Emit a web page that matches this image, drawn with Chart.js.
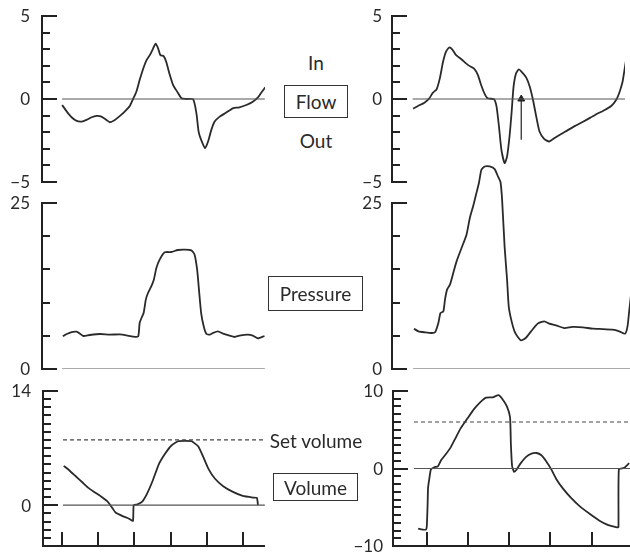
<!DOCTYPE html>
<html>
<head>
<meta charset="utf-8">
<script src="https://cdn.jsdelivr.net/npm/chart.js@4/dist/chart.umd.min.js"></script>
<style>
  html, body { margin: 0; padding: 0; background: #fff; }
  #wrap { position: relative; width: 630px; height: 555px; overflow: hidden; }
  canvas { position: absolute; }
  .lbl { position: absolute; font-family: Lato, "Open Sans", sans-serif; font-size: 19px; color: #2a2a2a;
         display: flex; align-items: center; justify-content: center; white-space: nowrap; }
  .box { border: 1.6px solid #333; box-sizing: border-box; }
</style>
</head>
<body>
<div id="wrap">
  <canvas id="flowL" width="270" height="192" style="left:0;top:0"></canvas>
  <canvas id="presL" width="270" height="190" style="left:0;top:190px"></canvas>
  <canvas id="volL" width="270" height="175" style="left:0;top:380px"></canvas>
  <canvas id="flowR" width="280" height="192" style="left:350px;top:0"></canvas>
  <canvas id="presR" width="280" height="230" style="left:350px;top:150px"></canvas>
  <canvas id="volR" width="280" height="175" style="left:350px;top:380px"></canvas>

  <div class="lbl" style="left:286px;top:50px;width:60px;height:24px">In</div>
  <div class="lbl box" style="left:284px;top:85px;width:64px;height:33px">Flow</div>
  <div class="lbl" style="left:286px;top:128px;width:60px;height:24px">Out</div>
  <div class="lbl box" style="left:268px;top:276px;width:95px;height:35px">Pressure</div>
  <div class="lbl" style="left:255px;top:428px;width:122px;height:24px">Set volume</div>
  <div class="lbl box" style="left:273px;top:473px;width:85px;height:28px">Volume</div>
</div>
<script>
// ---- time axis (units of one time-tick interval) ----
const timeTicksLeft = [0, 1, 2, 3, 4, 5];
const timeTicksRight = [0, 1, 2, 3, 4, 5];
const traceSpanLeft = [0.03, 5.6];
const traceSpanRight = [-0.31, 4.95];

// ---- left: normal breath ----
const flowLeftT = [0.03,0.16,0.29,0.43,0.57,0.70,0.84,0.98,1.11,1.25,1.34,1.48,1.62,1.75,1.89,1.98,2.07,2.16,2.26,2.35,2.44,2.53,2.60,2.67,2.73,2.82,2.89,2.99,3.08,3.21,3.31,3.44,3.63,3.72,3.78,3.85,3.96,4.04,4.13,4.22,4.36,4.54,4.72,4.90,5.09,5.27,5.41,5.50,5.61];
const flowLeftV = [-0.36,-0.76,-1.1,-1.32,-1.36,-1.26,-1.1,-1.02,-1.06,-1.26,-1.4,-1.26,-1.02,-0.76,-0.42,0,0.44,1.14,1.84,2.34,2.64,3.04,3.34,3.04,2.64,2.58,2.24,1.44,0.84,0.38,0.04,0,-0.02,-0.86,-1.96,-2.46,-2.96,-2.56,-1.86,-1.36,-1.06,-0.82,-0.56,-0.5,-0.36,-0.16,0.1,0.38,0.7];

const presLeftT = [0.05,0.16,0.29,0.43,0.52,0.61,0.79,1.07,1.34,1.62,1.80,1.98,2.12,2.16,2.21,2.27,2.33,2.39,2.48,2.55,2.62,2.71,2.85,3.03,3.21,3.40,3.58,3.67,3.74,3.79,3.85,3.92,3.99,4.08,4.17,4.31,4.45,4.63,4.77,4.90,5.13,5.27,5.41,5.59];
const presLeftV = [4.92,5.27,5.57,5.62,5.32,4.97,5.12,5.27,5.17,5.22,5.07,4.87,4.92,6.93,7.68,8.43,10.44,11.45,12.45,13.45,15.21,16.47,17.57,17.62,17.92,17.97,17.87,17.22,14.96,11.95,8.43,6.43,5.32,5.17,5.42,5.67,5.32,5.02,4.82,5.02,5.17,5.02,4.62,4.97];

const volLeftT = [0.05,0.20,0.38,0.57,0.72,0.89,1.07,1.25,1.39,1.48,1.66,1.84,1.96,1.98,2.07,2.21,2.35,2.51,2.67,2.85,3.03,3.21,3.40,3.58,3.76,3.90,4.04,4.22,4.45,4.72,4.99,5.27,5.38,5.41];
const volLeftV = [4.82,4.29,3.55,2.78,2.16,1.63,1.10,0.49,-0.33,-0.90,-1.31,-1.63,-1.92,0,0.08,0.41,1.43,3.06,4.98,6.33,7.35,7.84,7.88,7.84,7.22,5.92,4.49,3.27,2.33,1.63,1.14,0.94,0.90,0];
const setVolumeLeft = 8;

// ---- right: breath with a second triggered inspiration ----
const flowRightT = [-0.30,-0.18,-0.02,0.10,0.19,0.28,0.36,0.44,0.51,0.59,0.67,0.75,0.90,1.06,1.20,1.30,1.38,1.46,1.54,1.70,1.76,1.82,1.88,1.96,2.02,2.08,2.13,2.18,2.24,2.31,2.38,2.49,2.58,2.66,2.74,2.82,2.94,3.06,3.22,3.46,3.70,3.95,4.19,4.43,4.59,4.71,4.79,4.87,4.91,4.96];
const flowRightV = [-0.58,-0.42,-0.22,0.04,0.38,0.58,1.24,2.24,2.84,3.10,2.98,2.68,2.38,2.04,1.84,1.44,0.84,0.34,0.04,-0.02,-0.46,-1.66,-3.06,-3.86,-3.46,-2.26,-0.86,0.74,1.54,1.78,1.64,1.30,0.74,-0.06,-1.06,-1.96,-2.42,-2.56,-2.30,-1.96,-1.62,-1.30,-0.96,-0.66,-0.42,-0.06,0.38,1.04,1.64,2.4];
const arrowT = [2.37, 2.37];
const arrowV = [-2.46, 0.0];

const presRightT = [-0.29,-0.18,-0.02,0.14,0.22,0.30,0.35,0.42,0.46,0.51,0.58,0.66,0.74,0.86,0.98,1.06,1.14,1.22,1.28,1.34,1.42,1.54,1.66,1.74,1.80,1.84,1.90,1.96,2.00,2.06,2.14,2.22,2.30,2.41,2.54,2.70,2.86,2.98,3.14,3.34,3.54,3.79,4.03,4.27,4.51,4.67,4.81,4.87,4.91,4.96];
const presRightV = [6.07,5.67,5.52,5.42,5.52,6.93,8.43,8.68,10.44,11.95,12.70,14.46,16.21,18.22,20.23,22.74,24.50,26.51,28.01,30.0,30.5,30.5,30.1,29.0,28.2,25.5,18.47,13.45,9.44,7.43,5.67,4.82,4.32,4.67,5.67,6.83,7.18,6.83,6.58,6.17,6.33,6.28,6.07,6.02,5.92,5.67,5.32,6.43,8.68,11.5];

const volRightT = [-0.21,-0.10,-0.02,0.00,0.02,0.03,0.06,0.10,0.18,0.27,0.35,0.46,0.58,0.70,0.82,0.98,1.14,1.30,1.44,1.60,1.74,1.82,1.94,2.02,2.04,2.07,2.12,2.18,2.28,2.41,2.54,2.66,2.78,2.90,3.02,3.14,3.30,3.50,3.70,3.95,4.19,4.39,4.52,4.62,4.65,4.66,4.79,4.91];
const volRightV = [-7.76,-7.88,-7.88,-7.47,-4.61,-2.57,-1.35,-0.12,0.16,0.29,1.10,1.84,2.73,3.96,5.18,6.41,7.63,8.57,9.14,9.18,9.47,9.06,8.04,6.61,3.14,0.29,-0.45,-0.12,0.69,1.51,1.92,2.00,1.71,0.90,-0.12,-1.35,-2.57,-3.80,-4.82,-5.84,-6.73,-7.27,-7.47,-7.6,-7.55,-0.1,0.08,0.69];
const setVolumeRight = 6;

// ---- vertical axis ranges and tick labels ----
const flowAxis = { min: -5, max: 5, step: 1, long: [-5, 0, 5], labelAt: [5, 0, -5], labels: ['5', '0', '\u22125'] };
const presAxis = { min: 0, max: 25, step: 5, long: [0, 25], labelAt: [25, 0], labels: ['25', '0'] };
const volLeftAxis = { min: -5, max: 14, step: 1, long: [0, 14], labelAt: [14, 0], labels: ['14', '0'] };
const volRightAxis = { min: -10, max: 10, step: 1, long: [0, 10], labelAt: [10, 0, -10], labels: ['10', '0', '\u221210'] };

const INK = '#2a2a2a';
const pts = (t, v) => t.map((x, i) => ({ x, y: v[i] }));

function trace(t, v, extra) {
  return Object.assign({ data: pts(t, v), borderColor: INK, borderWidth: 1.8, pointRadius: 0, tension: 0.2, fill: false }, extra || {});
}
function hline(span, value, extra) {
  return Object.assign({ data: pts(span, [value, value]), borderColor: '#555', borderWidth: 1.2, pointRadius: 0, tension: 0, fill: false }, extra || {});
}

// draws the vertical axis with inward ticks, and the time axis on volume panels
const frameAxes = {
  id: 'frameAxes',
  afterDraw(chart, args, o) {
    const ctx = chart.ctx, ys = chart.scales.y, xs = chart.scales.x, a = o.axis;
    const left = chart.chartArea.left;
    ctx.save();
    ctx.strokeStyle = '#222';
    ctx.lineWidth = 2;
    ctx.lineCap = 'butt';
    ctx.beginPath();
    ctx.moveTo(left, ys.getPixelForValue(a.max) - 1);
    ctx.lineTo(left, ys.getPixelForValue(a.min) + 1);
    ctx.stroke();
    for (let v = a.min; v <= a.max + 1e-9; v += a.step) {
      if (o.timeTicks && v === a.min) continue;
      const y = Math.round(ys.getPixelForValue(v));
      const len = a.long.includes(v) ? 15 : 8;
      ctx.beginPath();
      ctx.moveTo(left, y);
      ctx.lineTo(left + len, y);
      ctx.stroke();
    }
    if (o.timeTicks) {
      const yb = Math.round(ys.getPixelForValue(a.min));
      ctx.beginPath();
      ctx.moveTo(left - 1, yb);
      ctx.lineTo(chart.chartArea.right, yb);
      ctx.stroke();
      o.timeTicks.forEach(t => {
        const x = Math.round(xs.getPixelForValue(t));
        ctx.beginPath();
        ctx.moveTo(x, yb);
        ctx.lineTo(x, yb - 14);
        ctx.stroke();
      });
    }
    ctx.fillStyle = '#2a2a2a';
    ctx.font = '17px Lato, "Open Sans", sans-serif';
    ctx.textAlign = 'right';
    ctx.textBaseline = 'middle';
    a.labelAt.forEach((v, i) => {
      ctx.fillText(a.labels[i], left - o.gap, ys.getPixelForValue(v) + 1);
    });
    ctx.restore();
  }
};

function panel(id, datasets, axis, xRange, pad, extra) {
  new Chart(document.getElementById(id), {
    type: 'line',
    data: { datasets },
    plugins: [frameAxes],
    options: {
      responsive: false,
      animation: false,
      devicePixelRatio: 1,
      layout: { padding: pad },
      scales: {
        x: { type: 'linear', display: false, min: xRange[0], max: xRange[1] },
        y: { type: 'linear', display: false, min: axis.min, max: axis.max }
      },
      plugins: {
        legend: { display: false },
        tooltip: { enabled: false },
        frameAxes: Object.assign({ axis, gap: 12 }, extra || {})
      }
    }
  });
}

const xLeft = [-0.522, 5.604];
const xRight = [-0.82, 4.93];

panel('flowL', [hline(traceSpanLeft, 0), trace(flowLeftT, flowLeftV)], flowAxis, xLeft,
  { left: 42, right: 5, top: 16, bottom: 10 });
panel('presL', [hline(traceSpanLeft, 0), trace(presLeftT, presLeftV)], presAxis, xLeft,
  { left: 42, right: 5, top: 13, bottom: 11 });
panel('volL', [hline(traceSpanLeft, 0), hline(traceSpanLeft, setVolumeLeft, { borderDash: [4, 3], borderColor: '#444' }), trace(volLeftT, volLeftV, { tension: 0.15 })], volLeftAxis, xLeft,
  { left: 43, right: 5, top: 11, bottom: 9 }, { timeTicks: timeTicksLeft });

panel('flowR', [hline(traceSpanRight, 0), trace(flowRightT, flowRightV),
  { data: pts(arrowT, arrowV), borderColor: '#333', borderWidth: 1.3, tension: 0, pointRadius: [0, 4], pointStyle: 'triangle', pointBackgroundColor: '#222', pointBorderColor: '#222', pointBorderWidth: 1 }],
  flowAxis, xRight, { left: 42, right: 0, top: 16, bottom: 10 }, { gap: 10 });
panel('presR', [hline(traceSpanRight, 0), trace(presRightT, presRightV, { clip: false })], presAxis, xRight,
  { left: 42, right: 0, top: 53, bottom: 11 }, { gap: 10 });
panel('volR', [hline(traceSpanRight, 0), hline(traceSpanRight, setVolumeRight, { borderDash: [4, 3], borderColor: '#444' }), trace(volRightT, volRightV, { tension: 0.15 })], volRightAxis, xRight,
  { left: 43, right: 0, top: 11, bottom: 9 }, { gap: 10, timeTicks: timeTicksRight });
</script>
</body>
</html>
